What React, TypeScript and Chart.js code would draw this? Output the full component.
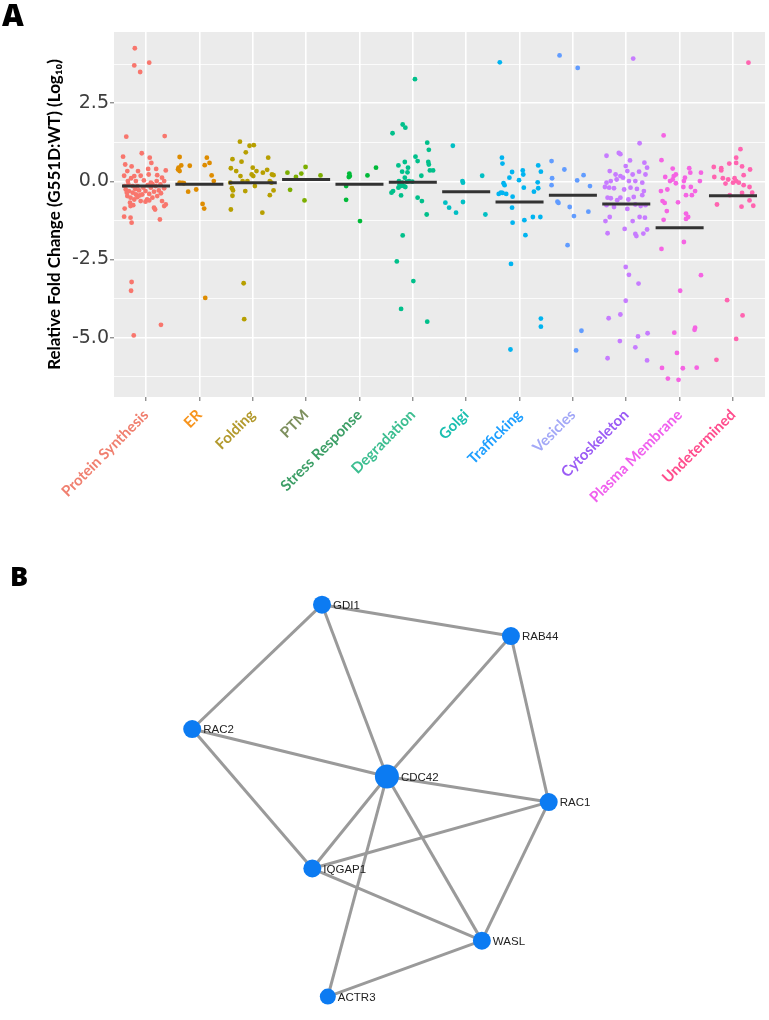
import React, { useEffect, useRef } from "react";
import { Chart, registerables } from "chart.js";
Chart.register(...registerables);

// ---------- Panel A data ----------
const categories = [
  "Protein Synthesis", "ER", "Folding", "PTM", "Stress Response", "Degradation",
  "Golgi", "Trafficking", "Vesicles", "Cytoskeleton", "Plasma Membrane", "Undetermined",
];
const pointColors = [
  "#F8766D", "#DE8C00", "#B79F00", "#7CAE00", "#00BA38", "#00C08B",
  "#00BFC4", "#00B4F0", "#619CFF", "#C77CFF", "#F564E3", "#FF64B0",
];
const labelColors = [
  "#F08070", "#F7941D", "#B39A2E", "#7D8F5D", "#3C9E66", "#3DBE91",
  "#1BBFB0", "#1E9FFF", "#A3A8F7", "#9B5CF5", "#F060EE", "#FF4D8D",
];
const medians = [-0.15, -0.09, -0.04, 0.06, -0.09, -0.03, -0.33, -0.66, -0.44, -0.72, -1.48, -0.46];

// each entry: [horizontal jitter (category units), log10 fold change]
const proteinSynthesis = [
  [-0.21, 4.26], [-0.22, 3.71], [0.06, 3.8], [-0.11, 3.5], [-0.37, 1.43], [0.35, 1.45], [-0.08, 0.9],
  [-0.43, 0.79], [0.07, 0.76], [-0.39, 0.54], [-0.27, 0.48], [0.1, 0.59], [-0.35, 0.33], [0.04, 0.4],
  [0.19, 0.4], [0.37, 0.35], [-0.41, 0.18], [-0.22, 0.17], [-0.1, 0.18], [0.05, 0.22], [0.21, 0.2],
  [0.3, 0.12], [-0.34, 0.01], [-0.19, 0.01], [-0.04, 0.03], [0.09, -0.04], [0.34, 0.01], [-0.38, -0.26],
  [-0.32, -0.31], [-0.25, -0.36], [-0.19, -0.42], [-0.13, -0.29], [-0.01, -0.31], [0.06, -0.4],
  [0.15, -0.33], [0.24, -0.29], [0.34, -0.22], [-0.35, -0.47], [-0.29, -0.52], [-0.22, -0.58],
  [-0.16, -0.5], [-0.07, -0.42], [0.02, -0.58], [0.12, -0.52], [0.21, -0.47], [-0.3, -0.68],
  [-0.24, -0.76], [-0.01, -0.65], [0.06, -0.61], [0.15, -0.84], [0.3, -0.63], [0.34, -0.79],
  [0.37, -0.74], [-0.4, -0.87], [0.17, -0.9], [-0.29, -0.79], [-0.41, -1.13], [-0.29, -1.16],
  [-0.27, -1.32], [0.26, -1.22], [-0.27, -3.22], [-0.28, -3.5], [0.28, -4.59], [-0.23, -4.93],
  [-0.4, -0.15], [-0.16, -0.15], [0.18, -0.15], [0.27, -0.1], [-0.1, -0.63], [-0.25, -0.15],
  [0.09, -0.2], [-0.36, -0.36], [0.2, 0.01], [-0.15, 0.33], [-0.33, -0.1], [-0.05, -0.2],
  [0.12, -0.08], [-0.2, -0.25], [0.28, -0.38], [-0.12, -0.45], [0.03, -0.12], [-0.28, 0.1],
];
const er = [
  [-0.37, 0.78], [0.14, 0.76], [0.19, 0.59], [-0.34, 0.51], [-0.18, 0.5], [0.1, 0.52], [-0.4, 0.38],
  [-0.37, 0.33], [0.23, 0.19], [0.27, 0.01], [-0.37, -0.04], [-0.29, -0.06], [-0.21, -0.33],
  [-0.06, -0.26], [0.06, -0.72], [0.09, -0.87], [0.11, -3.73], [-0.39, 0.44], [-0.32, -0.05],
];
const folding = [
  [-0.24, 1.27], [-0.06, 1.14], [0.02, 1.16], [-0.13, 0.93], [-0.38, 0.71], [0.29, 0.76], [-0.21, 0.63],
  [-0.41, 0.42], [-0.31, 0.33], [0.0, 0.44], [0.07, 0.33], [0.19, 0.28], [0.27, 0.37], [-0.23, 0.17],
  [-0.02, 0.22], [0.36, 0.22], [0.39, 0.2], [-0.19, 0.01], [-0.1, 0.01], [0.32, 0.01], [0.35, -0.04],
  [-0.39, -0.22], [-0.37, -0.29], [-0.14, -0.31], [0.04, -0.15], [0.39, -0.29], [-0.38, -0.46],
  [0.32, -0.44], [-0.41, -0.9], [0.18, -1.0], [-0.17, -3.26], [-0.16, -4.41], [-0.42, -0.04], [0.01, 0.17],
];
const ptm = [
  [-0.35, 0.28], [-0.19, 0.14], [-0.09, 0.25], [-0.01, 0.46], [0.27, 0.19], [-0.3, -0.27], [-0.03, -0.61],
];
const stressResponse = [
  [-0.19, 0.25], [-0.18, 0.17], [-0.2, 0.14], [0.15, 0.19], [0.31, 0.44], [-0.25, -0.15], [-0.25, -0.59],
  [0.01, -1.27],
];
const degradation = [
  [0.04, 3.27], [-0.19, 1.82], [-0.14, 1.72], [-0.38, 1.54], [0.27, 1.24], [0.3, 1.01], [0.05, 0.79],
  [0.09, 0.65], [-0.27, 0.51], [-0.15, 0.62], [-0.09, 0.44], [-0.2, 0.31], [-0.1, 0.29], [0.29, 0.62],
  [0.3, 0.54], [0.32, 0.35], [0.38, 0.35], [0.16, 0.18], [-0.15, 0.12], [-0.26, 0.01], [-0.2, -0.04],
  [-0.11, -0.01], [-0.23, -0.15], [-0.17, -0.15], [-0.01, -0.01], [-0.27, -0.2], [-0.37, -0.31],
  [-0.4, -0.36], [-0.22, -0.45], [0.09, -0.52], [0.17, -0.63], [0.26, -1.06], [-0.19, -1.73],
  [-0.3, -2.56], [0.01, -3.19], [-0.22, -4.08], [0.27, -4.49], [-0.25, -0.1], [-0.14, -0.18], [-0.07, 0.01],
];
const golgi = [
  [-0.25, 1.14], [0.3, 0.18], [-0.07, 0.01], [-0.06, -0.04], [-0.39, -0.68], [-0.32, -0.84],
  [-0.06, -0.66], [-0.19, -1.0], [0.36, -1.06],
];
const trafficking = [
  [-0.37, 3.81], [-0.33, 0.76], [-0.32, 0.57], [0.35, 0.51], [0.4, 0.31], [-0.14, 0.3], [0.06, 0.35],
  [0.07, 0.22], [-0.19, 0.12], [-0.01, 0.04], [-0.3, -0.06], [-0.28, -0.12], [0.34, -0.03], [0.08, -0.2],
  [0.35, -0.22], [0.27, -0.33], [-0.39, -0.4], [-0.35, -0.36], [-0.32, -0.37], [-0.25, -0.4],
  [-0.13, -0.49], [-0.14, -0.84], [-0.13, -1.32], [0.09, -1.24], [0.25, -1.14], [0.39, -1.14],
  [0.11, -1.72], [-0.16, -2.64], [0.4, -4.39], [0.4, -4.65], [-0.17, -5.38],
];
const vesicles = [
  [-0.25, 4.03], [0.09, 3.63], [-0.4, 0.65], [-0.16, 0.38], [0.2, 0.2], [-0.39, 0.1], [0.08, 0.03],
  [0.32, -0.15], [-0.4, -0.12], [-0.29, -0.65], [-0.27, -0.69], [-0.06, -0.82], [0.29, -0.97],
  [0.02, -1.11], [-0.1, -2.04], [0.16, -4.78], [0.06, -5.41],
];
const cytoskeleton = [
  [0.13, 3.93], [0.25, 1.22], [-0.37, 0.82], [-0.14, 0.91], [-0.11, 0.87], [0.07, 0.67], [0.34, 0.6],
  [0.39, 0.44], [-0.01, 0.49], [-0.31, 0.33], [-0.2, 0.22], [-0.11, 0.17], [0.02, 0.33], [0.12, 0.22],
  [0.24, 0.31], [0.36, 0.22], [-0.37, -0.04], [-0.29, 0.01], [-0.18, 0.06], [-0.06, 0.12], [0.05, 0.01],
  [0.17, 0.01], [0.3, -0.04], [-0.4, -0.18], [-0.32, -0.2], [-0.23, -0.22], [-0.04, -0.26], [0.08, -0.2],
  [0.2, -0.24], [0.33, -0.31], [-0.35, -0.52], [-0.29, -0.54], [-0.17, -0.6], [-0.11, -0.52],
  [0.04, -0.58], [0.14, -0.5], [0.3, -0.44], [-0.37, -0.76], [-0.23, -0.82], [0.02, -0.88],
  [0.17, -0.74], [0.27, -0.79], [0.36, -0.76], [-0.31, -1.14], [-0.39, -1.27], [0.12, -1.27],
  [0.25, -1.14], [0.35, -1.16], [-0.03, -1.52], [0.39, -1.54], [0.32, -1.67], [0.17, -1.68],
  [-0.35, -1.66], [0.19, -1.75], [-0.01, -2.74], [0.05, -2.99], [0.23, -3.27], [-0.01, -3.82],
  [-0.11, -4.26], [-0.33, -4.38], [0.4, -4.86], [0.22, -4.96], [-0.12, -5.11], [0.17, -5.31],
  [-0.35, -5.66], [0.39, -5.73],
];
const plasmaMembrane = [
  [-0.3, 1.47], [-0.34, 0.68], [-0.13, 0.41], [0.18, 0.42], [0.2, 0.28], [0.4, 0.28], [-0.27, 0.14],
  [-0.11, 0.17], [-0.07, 0.22], [0.1, 0.12], [-0.13, 0.06], [-0.18, 0.01], [-0.07, -0.06], [0.08, 0.01],
  [0.38, 0.01], [-0.35, -0.31], [-0.23, -0.26], [0.07, -0.18], [0.21, -0.18], [0.29, -0.31],
  [0.12, -0.44], [0.23, -0.44], [-0.32, -0.63], [-0.28, -0.69], [-0.03, -0.67], [-0.24, -0.95],
  [0.12, -1.03], [0.16, -1.14], [0.12, -1.2], [-0.3, -1.23], [0.08, -1.94], [-0.34, -2.16],
  [0.4, -3.0], [0.01, -3.5], [0.29, -4.68], [0.28, -4.75], [-0.1, -4.84], [-0.05, -5.49],
  [-0.33, -5.97], [0.06, -5.98], [0.32, -5.96], [-0.22, -6.31], [-0.02, -6.35],
];
const undetermined = [
  [0.29, 3.8], [0.14, 1.03], [0.06, 0.76], [-0.36, 0.46], [-0.22, 0.42], [-0.22, 0.35], [-0.07, 0.57],
  [0.06, 0.59], [0.17, 0.48], [0.32, 0.38], [-0.35, 0.14], [-0.19, 0.1], [-0.09, 0.06], [0.03, 0.1],
  [0.2, 0.2], [0.06, 0.01], [-0.14, -0.07], [0.0, -0.04], [0.11, -0.04], [0.2, -0.12], [0.31, -0.18],
  [0.36, -0.36], [0.17, -0.37], [-0.06, -0.44], [0.31, -0.61], [0.16, -0.81], [0.38, -0.78],
  [-0.3, -0.74], [-0.11, -3.8], [0.18, -4.29], [0.06, -5.04], [-0.31, -5.71],
];
const groups = [
  proteinSynthesis, er, folding, ptm, stressResponse, degradation,
  golgi, trafficking, vesicles, cytoskeleton, plasmaMembrane, undetermined,
];

const yTicks = [-6.25, -5, -3.75, -2.5, -1.25, 0, 1.25, 2.5, 3.75];
const yMajorTicks = [-5, -2.5, 0, 2.5];
const yTitle = "Relative Fold Change (G551D:WT) (Log\u2081\u2080)";

// ---------- Panel B data ----------
const nodeNames = ["GDI1", "RAB44", "RAC2", "CDC42", "RAC1", "IQGAP1", "WASL", "ACTR3"];
const nodeX = [320, 515, 186, 387, 554, 310, 485, 326];
const nodeY = [45, 78, 176, 226, 253, 323, 399, 458];
const nodeRadius = [9, 9, 9, 12, 9, 9, 9, 8];
const edges = [
  ["GDI1", "RAB44"], ["GDI1", "RAC2"], ["GDI1", "CDC42"], ["RAB44", "CDC42"], ["RAB44", "RAC1"],
  ["RAC2", "CDC42"], ["RAC2", "IQGAP1"], ["CDC42", "RAC1"], ["CDC42", "IQGAP1"], ["CDC42", "ACTR3"],
  ["CDC42", "WASL"], ["RAC1", "IQGAP1"], ["RAC1", "WASL"], ["IQGAP1", "WASL"], ["WASL", "ACTR3"],
];

const panelBg = {
  id: "panelBg",
  beforeDraw(chart: any) {
    const { ctx, chartArea } = chart;
    ctx.save();
    ctx.fillStyle = "#EBEBEB";
    ctx.fillRect(chartArea.left, chartArea.top, chartArea.right - chartArea.left, chartArea.bottom - chartArea.top);
    ctx.restore();
  },
};

const nodeLabels = {
  id: "nodeLabels",
  afterDatasetsDraw(chart: any) {
    const { ctx } = chart;
    const idx = chart.data.datasets.findIndex((d: any) => d.label === "nodes");
    const meta = chart.getDatasetMeta(idx);
    ctx.save();
    ctx.font = "11.5px 'Liberation Sans', Arial, sans-serif";
    ctx.fillStyle = "#222";
    ctx.textBaseline = "middle";
    ctx.textAlign = "left";
    meta.data.forEach((el: any, i: number) => {
      ctx.fillText(nodeNames[i], el.x + nodeRadius[i] + 2, el.y + 1);
    });
    ctx.restore();
  },
};

const W = 769;
const HA = 560;
const HB = 470;

export default function App() {
  const refA = useRef<HTMLCanvasElement>(null);
  const refB = useRef<HTMLCanvasElement>(null);

  useEffect(() => {
    const datasetsA: any[] = [
      ...medians.map((m, i) => ({
        label: "median " + categories[i],
        data: [{ x: i - 0.45, y: m }, { x: i + 0.45, y: m }],
        showLine: true,
        borderColor: "#333333",
        borderWidth: 3,
        pointRadius: 0,
        order: 0,
      })),
      ...groups.map((g, i) => ({
        label: categories[i],
        data: g.map(([j, v]) => ({ x: i + j, y: v })),
        backgroundColor: pointColors[i],
        borderWidth: 0,
        pointRadius: 2.4,
        order: 1,
      })),
    ];

    const chartA = new Chart(refA.current!, {
      type: "scatter",
      data: { datasets: datasetsA },
      plugins: [panelBg],
      options: {
        animation: false,
        responsive: false,
        maintainAspectRatio: false,
        layout: { padding: { top: 32, left: 0, right: 0, bottom: 0 } },
        plugins: { legend: { display: false }, tooltip: { enabled: false } },
        scales: {
          x: {
            type: "linear",
            min: -0.6,
            max: 11.6,
            afterBuildTicks: (s: any) => {
              s.ticks = categories.map((_, i) => ({ value: i }));
            },
            afterFit: (s: any) => {
              s.height = HA - 397;
              s.paddingLeft = 0;
              s.paddingRight = 0;
            },
            grid: { color: "#FFFFFF", lineWidth: 1.6, drawTicks: true, tickLength: 4, tickColor: "#666", tickWidth: 1 },
            border: { display: false },
            ticks: {
              autoSkip: false,
              maxRotation: 45,
              minRotation: 45,
              padding: 5,
              color: (c: any) => labelColors[c.index] || "#333",
              font: { family: "Lato", weight: "bold", size: 15 },
              callback: (v: any) => categories[Math.round(v)],
            },
          },
          y: {
            type: "linear",
            min: -6.9,
            max: 4.78,
            afterBuildTicks: (s: any) => {
              s.ticks = yTicks.map((v) => ({ value: v }));
            },
            afterFit: (s: any) => {
              s.width = 114;
              s.paddingTop = 0;
              s.paddingBottom = 0;
            },
            grid: {
              color: "#FFFFFF",
              lineWidth: (c: any) => (yMajorTicks.includes(c.tick && c.tick.value) ? 1.6 : 0.8),
              drawTicks: true,
              tickLength: 4,
              tickWidth: 1,
              tickColor: (c: any) => (yMajorTicks.includes(c.tick && c.tick.value) ? "#666" : "rgba(0,0,0,0)"),
            },
            border: { display: false },
            ticks: {
              padding: 1,
              color: "#3d3d3d",
              font: { family: "DejaVu Sans", size: 19 },
              callback: (v: any) => (yMajorTicks.includes(v) ? Number(v).toFixed(1) : ""),
            },
            title: {
              display: true,
              text: yTitle,
              color: "#000",
              font: { family: "Lato", weight: "bold", size: 17 },
              padding: { top: 44, bottom: 0 },
            },
          },
        },
      } as any,
    });

    const idx = (n: string) => nodeNames.indexOf(n);
    const datasetsB: any[] = [
      {
        label: "nodes",
        data: nodeNames.map((_, i) => ({ x: nodeX[i], y: nodeY[i] })),
        backgroundColor: "#0C7BF2",
        borderWidth: 0,
        pointRadius: nodeRadius,
        order: 0,
      },
      ...edges.map(([a, b]) => ({
        label: a + "-" + b,
        data: [
          { x: nodeX[idx(a)], y: nodeY[idx(a)] },
          { x: nodeX[idx(b)], y: nodeY[idx(b)] },
        ],
        showLine: true,
        borderColor: "#9A9A9A",
        borderWidth: 3,
        pointRadius: 0,
        order: 1,
      })),
    ];

    const chartB = new Chart(refB.current!, {
      type: "scatter",
      data: { datasets: datasetsB },
      plugins: [nodeLabels],
      options: {
        animation: false,
        responsive: false,
        maintainAspectRatio: false,
        layout: { padding: 0 },
        plugins: { legend: { display: false }, tooltip: { enabled: false } },
        scales: {
          x: { type: "linear", min: 0, max: W, display: false },
          y: { type: "linear", min: 0, max: HB, reverse: true, display: false },
        },
      } as any,
    });

    return () => {
      chartA.destroy();
      chartB.destroy();
    };
  }, []);

  const letter: React.CSSProperties = {
    position: "absolute",
    fontFamily: "'Open Sans', sans-serif",
    fontWeight: 800,
    fontSize: 30,
    lineHeight: "30px",
    color: "#000",
  };

  return (
    <div style={{ position: "absolute", left: 0, top: 0, width: W, height: 1020, background: "#fff", overflow: "hidden" }}>
      <canvas ref={refA} width={W} height={HA} style={{ position: "absolute", left: 0, top: 0, width: W, height: HA }} />
      <canvas ref={refB} width={W} height={HB} style={{ position: "absolute", left: 0, top: 550, width: W, height: HB }} />
      <div style={{ ...letter, left: 2, top: 0 }}>A</div>
      <div style={{ ...letter, left: 10, top: 561, fontSize: 27 }}>B</div>
    </div>
  );
}
